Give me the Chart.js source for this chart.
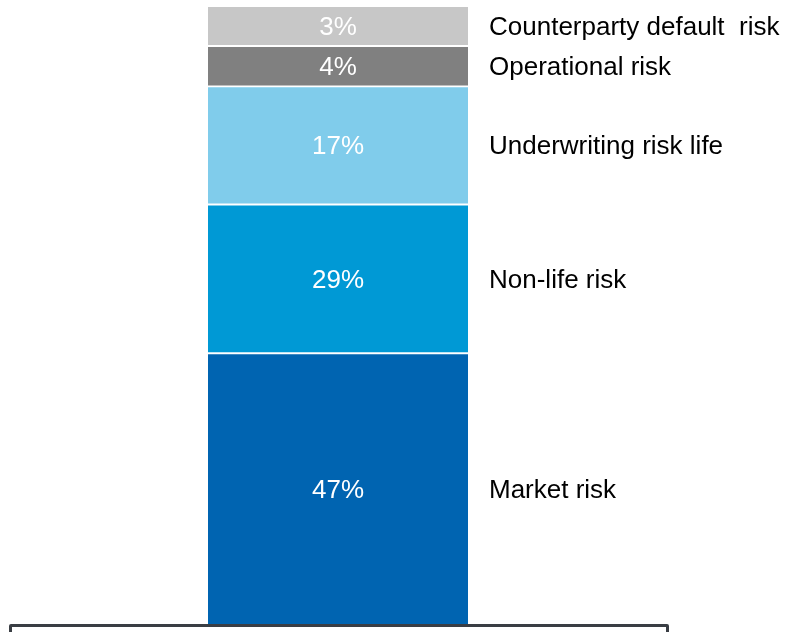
<!DOCTYPE html>
<html>
<head>
<meta charset="utf-8">
<script src="https://cdn.jsdelivr.net/npm/chart.js@4/dist/chart.umd.min.js"></script>
<style>
  html, body { margin: 0; padding: 0; background: #ffffff; }
  #wrap { position: relative; width: 789px; height: 632px; overflow: hidden; }
  #box { position: absolute; left: 9px; top: 624px; width: 654px; height: 40px;
         border: 3px solid #3a3e44; border-radius: 2px; box-sizing: content-box; }
</style>
</head>
<body>
<div id="wrap">
  <canvas id="c"></canvas>
  <div id="box"></div>
</div>
<script>
// Risk categories, bottom to top of the stacked bar
const categories = ['Market risk', 'Non-life risk', 'Underwriting risk life', 'Operational risk', 'Counterparty default  risk'];
// Percentages printed inside the segments
const shareLabels = ['47%', '29%', '17%', '4%', '3%'];
// Segment heights as drawn in the picture (relative units)
const segmentHeights = [271.7, 148.8, 118.1, 40.4, 39.0];
const colors = ['#0064B1', '#0099D5', '#80CCEB', '#808080', '#C7C7C7'];

const total = segmentHeights.reduce((a, b) => a + b, 0);

const datasets = categories.map((name, i) => ({
  label: name,
  data: [segmentHeights[i]],
  backgroundColor: colors[i],
  borderColor: '#ffffff',
  borderWidth: { top: i === categories.length - 1 ? 0 : 1.3, bottom: i === 0 ? 0 : 1.3, left: 0, right: 0 },
  borderSkipped: false,
  barPercentage: 1,
  categoryPercentage: 1
}));

const labelPlugin = {
  id: 'segLabels',
  afterDatasetsDraw(chart) {
    const ctx = chart.ctx;
    ctx.save();
    chart.data.datasets.forEach((ds, i) => {
      const meta = chart.getDatasetMeta(i);
      const bar = meta.data[0];
      const props = bar.getProps(['x', 'y', 'base', 'width'], true);
      const cy = (props.y + props.base) / 2 + 1.5;
      ctx.font = '26px "Liberation Sans", Arial, sans-serif';
      ctx.textBaseline = 'middle';
      ctx.fillStyle = '#ffffff';
      ctx.textAlign = 'center';
      ctx.fillText(shareLabels[i], props.x, cy);
      ctx.fillStyle = '#000000';
      ctx.textAlign = 'left';
      ctx.fillText(categories[i], props.x + props.width / 2 + 21, cy);
    });
    ctx.restore();
  }
};

new Chart(document.getElementById('c'), {
  type: 'bar',
  data: { labels: [''], datasets },
  options: {
    responsive: true,
    maintainAspectRatio: false,
    animation: false,
    layout: { padding: { left: 208, right: 321, top: 7, bottom: 7 } },
    plugins: { legend: { display: false }, tooltip: { enabled: false } },
    scales: {
      x: { stacked: true, display: false },
      y: { stacked: true, display: false, min: 0, max: total }
    }
  },
  plugins: [labelPlugin]
});
</script>
</body>
</html>
